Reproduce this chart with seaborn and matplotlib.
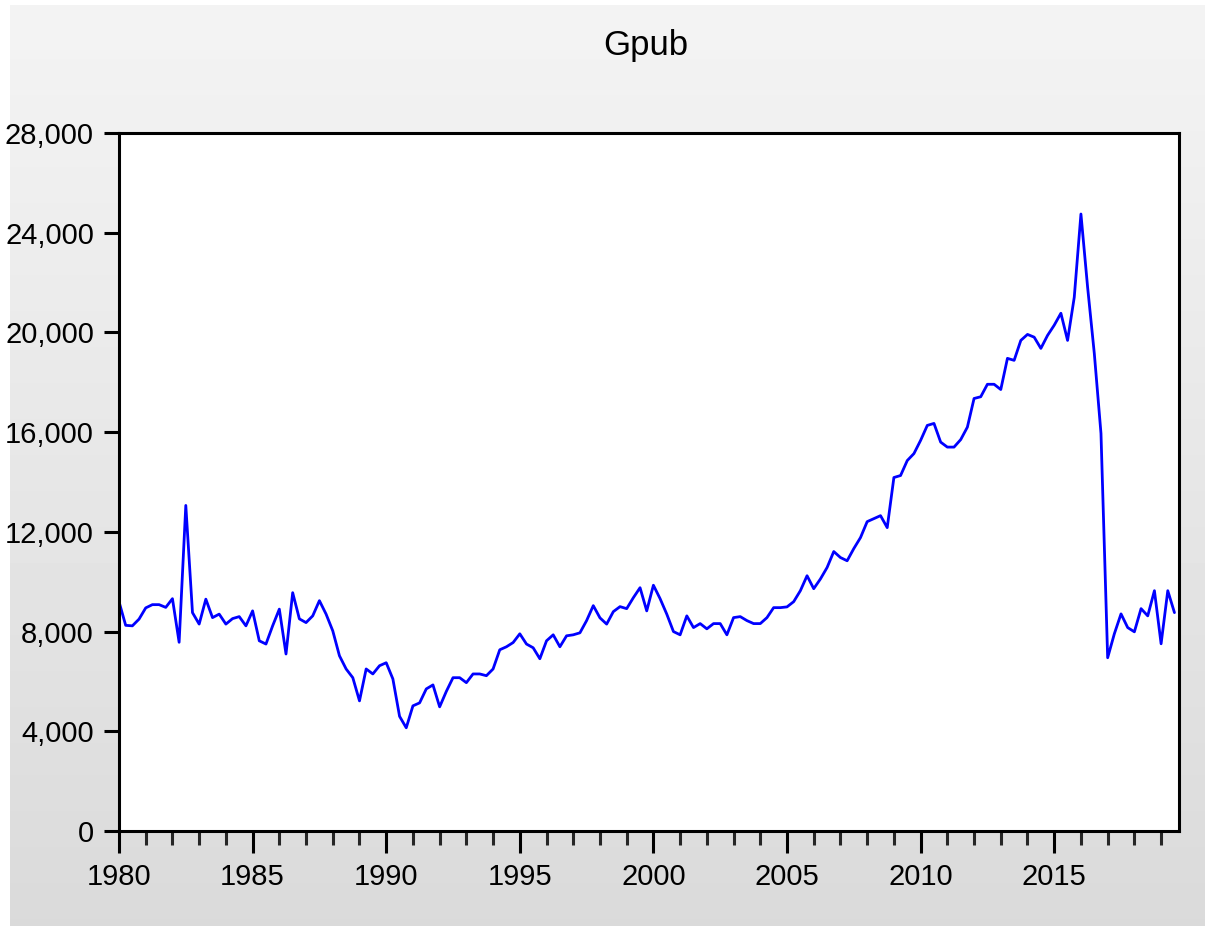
import numpy as np
import pandas as pd
import matplotlib
matplotlib.use("Agg")
import matplotlib.pyplot as plt
import seaborn as sns
from matplotlib.ticker import FixedLocator, FuncFormatter

# ---- data (quarterly, 1980Q1 onward) ----
start_period = "1980Q1"
gpub = [
    9200, 8250, 8230, 8500, 8950, 9080, 9080, 8970, 9320, 7570,
    13060, 8760, 8300, 9300, 8560, 8700, 8300, 8520, 8600, 8230,
    8830, 7630, 7500, 8230, 8900, 7100, 9560, 8510, 8360, 8630,
    9240, 8700, 8030, 7030, 6500, 6150, 5220, 6500, 6300, 6630,
    6750, 6100, 4600, 4140, 5020, 5140, 5700, 5860, 4980, 5600,
    6150, 6150, 5950, 6300, 6300, 6230, 6500, 7270, 7390, 7560,
    7910, 7500, 7350, 6910, 7630, 7870, 7390, 7830, 7870, 7950,
    8440, 9040, 8550, 8300, 8800, 9000, 8920, 9360, 9760, 8830,
    9860, 9320, 8700, 8000, 7870, 8630, 8160, 8320, 8110, 8320,
    8320, 7870, 8560, 8600, 8440, 8320, 8320, 8560, 8960, 8960,
    8990, 9200, 9640, 10240, 9720, 10110, 10570, 11210, 10970, 10840,
    11330, 11770, 12410, 12530, 12650, 12170, 14180, 14260, 14860, 15140,
    15670, 16270, 16350, 15600, 15400, 15400, 15700, 16200, 17350, 17420,
    17920, 17920, 17710, 18960, 18880, 19680, 19920, 19810, 19360, 19880,
    20290, 20770, 19680, 21410, 24750, 21810, 19160, 15950, 6950, 7910,
    8710, 8160, 7990, 8920, 8630, 9640, 7510, 9640, 8760,
]
title = "Gpub"
major_years = [1980, 1985, 1990, 1995, 2000, 2005, 2010, 2015]
minor_years = list(range(1980, 2020))
y_ticks = [0, 4000, 8000, 12000, 16000, 20000, 24000, 28000]

periods = pd.period_range(start_period, periods=len(gpub), freq="Q")
df = pd.DataFrame({
    "year": periods.year + (periods.quarter - 1) / 4.0,
    "gpub": gpub,
})

sns.set_style("ticks")
plt.rcParams["font.family"] = ["Liberation Sans", "DejaVu Sans"]

W, H = 1205, 926
fig = plt.figure(figsize=(W / 100, H / 100), dpi=100)
fig.patch.set_facecolor("white")

# gradient background panel
bg = fig.add_axes([10 / W, 0, 1 - 10 / W, 1 - 5 / H], zorder=-10)
grad = np.linspace(0.955, 0.855, 256).reshape(-1, 1)
bg.imshow(np.repeat(grad, 2, axis=1), aspect="auto", cmap="gray", vmin=0, vmax=1,
          extent=[0, 1, 0, 1], origin="upper")
bg.set_axis_off()

left, right, top, bottom = 119, 1179, 133, 831
ax = fig.add_axes([left / W, 1 - bottom / H, (right - left) / W, (bottom - top) / H])
ax.set_facecolor("white")

sns.lineplot(data=df, x="year", y="gpub", color="#0000ff", linewidth=2.0, ax=ax)

ax.set_xlim(1980, 2019.67)
ax.set_ylim(0, 28000)
ax.set_xlabel("")
ax.set_ylabel("")

ax.xaxis.set_major_locator(FixedLocator(major_years))
ax.xaxis.set_minor_locator(FixedLocator(minor_years))
ax.xaxis.set_major_formatter(FuncFormatter(lambda v, p: f"{int(round(v))}"))
ax.yaxis.set_major_locator(FixedLocator(y_ticks))
ax.yaxis.set_major_formatter(FuncFormatter(lambda v, p: f"{int(v):,}"))

for s in ax.spines.values():
    s.set_visible(True)
    s.set_linewidth(2.2)
    s.set_color("black")

ax.tick_params(axis="x", which="major", direction="out", length=16, width=2.2,
               pad=7, labelsize=21, colors="black")
ax.tick_params(axis="x", which="minor", direction="out", length=10, width=2.2)
ax.tick_params(axis="y", which="major", direction="out", length=11, width=2.2,
               pad=7, labelsize=21, colors="black")

fig.text(645.5 / W, 1 - 45 / H, title, ha="center", va="center", fontsize=25, color="black")

fig.savefig("out.png", dpi=100)
